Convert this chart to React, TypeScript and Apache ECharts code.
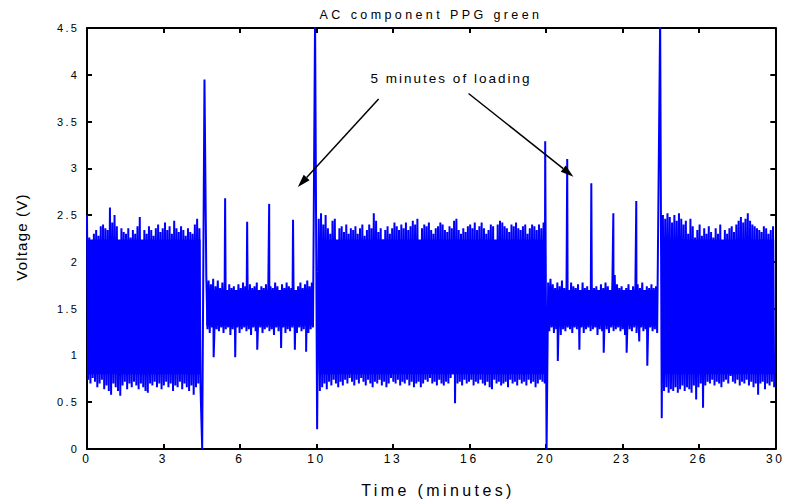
import React, { useEffect, useRef } from 'react';
import * as echarts from 'echarts';

// ---- axis labels ----
const xTickLabels = ['0', '3', '6', '10', '13', '16', '20', '23', '26', '30'];
const xMax = 30;
const yMax = 4.5;
const yInterval = 0.5;

// ---- signal: each segment holds alternating peak / trough samples, 0.05 min apart ----
const sampleStep = 0.05;

const segAStart = 0; // rest, before loading
const segA = [
  2.50, 0.74, 2.26, 0.70, 2.16, 0.76, 2.30, 0.72, 2.34, 0.66,
  2.28, 0.70, 2.38, 0.74, 2.40, 0.64, 2.36, 0.68, 2.34, 0.62,
  2.58, 0.58, 2.42, 0.70, 2.50, 0.66, 2.38, 0.62, 2.20, 0.57,
  2.36, 0.68, 2.32, 0.72, 2.30, 0.64, 2.36, 0.70, 2.26, 0.66,
  2.34, 0.72, 2.30, 0.68, 2.38, 0.64, 2.48, 0.70, 2.20, 0.66,
  2.34, 0.62, 2.30, 0.60, 2.38, 0.70, 2.34, 0.68, 2.28, 0.72,
  2.36, 0.66, 2.40, 0.70, 2.32, 0.64, 2.36, 0.68, 2.42, 0.72,
  2.34, 0.66, 2.38, 0.70, 2.30, 0.62, 2.44, 0.68, 2.36, 0.66,
  2.32, 0.72, 2.38, 0.64, 2.34, 0.70, 2.28, 0.66, 2.36, 0.62,
  2.32, 0.68, 2.30, 0.58, 2.40, 0.66, 2.46, 0.70, 2.36, 0.64,
];

const segBStart = 5.2; // first loading period
const segB = [
  1.84, 1.28, 1.80, 1.24, 1.76, 1.30, 1.82, 1.22, 1.74, 1.28,
  1.80, 1.26, 1.72, 1.30, 1.78, 1.24, 1.74, 1.28, 1.70, 1.30,
  1.76, 1.22, 1.72, 1.28, 1.74, 1.26, 1.70, 1.30, 1.76, 1.24,
  1.72, 1.28, 1.78, 1.30, 1.74, 1.26, 1.70, 1.28, 1.76, 1.22,
  1.72, 1.30, 1.74, 1.26, 1.78, 1.28, 1.70, 1.30, 1.74, 1.24,
  1.72, 1.28, 1.76, 1.30, 1.70, 1.26, 1.74, 1.28, 1.72, 1.22,
  1.78, 1.30, 1.74, 1.26, 1.70, 1.28, 1.76, 1.30, 1.72, 1.24,
  1.78, 1.28, 1.74, 1.26, 1.72, 1.30, 1.76, 1.28, 1.70, 1.24,
  1.74, 1.30, 1.78, 1.26, 1.72, 1.28, 1.76, 1.30, 1.80, 1.24,
  1.74, 1.28, 1.78, 1.30,
];

const segCStart = 10.1; // rest between loadings
const segC = [
  2.46, 0.62, 2.52, 0.66, 2.40, 0.70, 2.50, 0.64, 2.36, 0.72,
  2.30, 0.68, 2.44, 0.74, 2.46, 0.70, 2.20, 0.66, 2.36, 0.72,
  2.38, 0.68, 2.32, 0.74, 2.40, 0.70, 2.30, 0.76, 2.36, 0.72,
  2.34, 0.68, 2.38, 0.74, 2.30, 0.70, 2.36, 0.76, 2.40, 0.72,
  2.28, 0.68, 2.34, 0.74, 2.40, 0.70, 2.36, 0.66, 2.52, 0.72,
  2.44, 0.70, 2.32, 0.74, 2.36, 0.68, 2.24, 0.72, 2.34, 0.66,
  2.38, 0.70, 2.30, 0.76, 2.36, 0.72, 2.42, 0.70, 2.38, 0.74,
  2.34, 0.68, 2.40, 0.72, 2.36, 0.70, 2.42, 0.74, 2.34, 0.68,
  2.38, 0.72, 2.44, 0.66, 2.40, 0.70, 2.46, 0.72, 2.10, 0.66,
  2.36, 0.70, 2.40, 0.74, 2.38, 0.72, 2.42, 0.76, 2.34, 0.70,
  2.30, 0.72, 2.36, 0.68, 2.38, 0.74, 2.42, 0.70, 2.40, 0.68,
  2.34, 0.72, 2.32, 0.70, 2.38, 0.76, 2.36, 0.80, 2.44, 0.74,
  2.46, 0.70, 2.34, 0.72, 2.30, 0.68, 2.36, 0.74, 2.32, 0.70,
  2.38, 0.72, 2.40, 0.74, 2.36, 0.68, 2.42, 0.72, 2.34, 0.70,
  2.38, 0.74, 2.42, 0.70, 2.36, 0.68, 2.30, 0.72, 2.34, 0.66,
  2.40, 0.64, 2.38, 0.74, 2.02, 0.70, 2.40, 0.72, 2.44, 0.68,
  2.42, 0.70, 2.38, 0.72, 2.36, 0.66, 2.32, 0.74, 2.40, 0.70,
  2.38, 0.72, 2.42, 0.68, 2.36, 0.74, 2.34, 0.70, 2.38, 0.72,
  2.40, 0.68, 2.30, 0.74, 2.36, 0.70, 2.40, 0.72, 2.38, 0.66,
  2.34, 0.70, 2.40, 0.74, 2.36, 0.72, 2.42, 0.70,
];

const segDStart = 20.1; // second loading period
const segD = [
  1.78, 1.26, 1.82, 1.30, 1.76, 1.24, 1.72, 1.28, 1.78, 1.30,
  1.74, 1.22, 1.80, 1.28, 1.72, 1.26, 1.76, 1.30, 1.70, 1.28,
  1.78, 1.24, 1.74, 1.30, 1.72, 1.28, 1.76, 1.26, 1.70, 1.30,
  1.78, 1.24, 1.72, 1.28, 1.74, 1.30, 1.70, 1.26, 1.76, 1.28,
  1.72, 1.30, 1.74, 1.22, 1.70, 1.28, 1.76, 1.26, 1.72, 1.30,
  1.78, 1.28, 1.74, 1.24, 1.70, 1.30, 1.80, 1.26, 1.86, 1.28,
  1.76, 1.30, 1.72, 1.26, 1.74, 1.28, 1.70, 1.22, 1.72, 1.30,
  1.76, 1.28, 1.70, 1.26, 1.74, 1.30, 1.72, 1.24, 1.76, 1.28,
  1.72, 1.30, 1.78, 1.26, 1.70, 1.28, 1.74, 1.22, 1.72, 1.30,
  1.76, 1.26, 1.72, 1.28, 1.74, 1.24,
];

const segEStart = 25.1; // recovery
const segE = [
  2.50, 0.62, 2.46, 0.66, 2.52, 0.60, 2.48, 0.64, 2.42, 0.62,
  2.50, 0.66, 2.44, 0.60, 2.52, 0.64, 2.46, 0.68, 2.40, 0.62,
  2.44, 0.66, 2.30, 0.64, 2.46, 0.60, 2.38, 0.68, 2.26, 0.53,
  2.34, 0.66, 2.40, 0.70, 2.28, 0.44, 2.36, 0.68, 2.30, 0.72,
  2.38, 0.70, 2.32, 0.74, 2.26, 0.68, 2.36, 0.72, 2.30, 0.70,
  2.40, 0.66, 2.14, 0.72, 2.34, 0.74, 2.30, 0.70, 2.36, 0.78,
  2.38, 0.72, 2.32, 0.70, 2.40, 0.74, 2.44, 0.68, 2.48, 0.72,
  2.42, 0.70, 2.46, 0.74, 2.52, 0.68, 2.44, 0.72, 2.40, 0.66,
  2.38, 0.70, 2.36, 0.58, 2.34, 0.70, 2.32, 0.72, 2.38, 0.64,
  2.36, 0.70, 2.30, 0.68, 2.34, 0.72, 2.38, 0.66,
];

// dense core of each segment (where the trace fills solid)
const coreStart = [0, 5.2, 10.1, 20.1, 25.1];
const coreEnd = [4.95, 9.85, 19.95, 24.85, 29.95];
const coreLow = [0.8, 1.32, 0.8, 1.32, 0.8];
const coreHigh = [2.24, 1.7, 2.24, 1.7, 2.24];

// isolated spikes / artefacts (minutes, volts)
const spikeTimes = [
  5.02, 5.12, 5.52, 6.02, 6.46, 6.98, 7.42, 7.94, 8.46, 8.98, 9.06, 9.55,
  9.94, 10.03, 16.04, 19.97, 20.03, 20.52, 20.93, 21.46, 21.98, 22.52,
  22.94, 23.52, 23.94, 24.07, 24.42, 24.98, 25.05,
];
const spikeValues = [
  0.0, 3.95, 0.98, 2.68, 0.98, 2.43, 1.06, 2.62, 1.08, 2.45, 1.06, 1.04,
  4.6, 0.21, 0.49, 3.29, 0.0, 0.94, 3.10, 1.06, 2.84, 1.03,
  2.52, 1.03, 2.65, 1.15, 0.89, 4.6, 0.33,
];

// annotation arrows, in data coordinates (minutes, volts)
const arrowStart = [[12.71, 3.74], [16.63, 3.80]];
const arrowEnd = [[9.19, 2.80], [21.2, 2.91]];

const FONT = "'Liberation Sans', Arial, Helvetica, sans-serif";
const BLUE = '#0000ff';

function segPoints(start: number, vals: number[]) {
  return vals.map((v, i) => [Math.round((start + i * sampleStep) * 1000) / 1000, v]);
}

const points = [
  ...segPoints(segAStart, segA),
  ...segPoints(segBStart, segB),
  ...segPoints(segCStart, segC),
  ...segPoints(segDStart, segD),
  ...segPoints(segEStart, segE),
  ...spikeTimes.map((t, i) => [t, spikeValues[i]]),
].sort((a, b) => a[0] - b[0]);

const xTickValues = xTickLabels.map((_, i) => (i * xMax) / (xTickLabels.length - 1));

const axisLineStyle = { color: '#000', width: 2 };

const css = `
.ppg-chart text[style*="11px"] { letter-spacing: 2.2px; }
.ppg-chart text[style*="12px"] { letter-spacing: 2.6px; }
.ppg-chart text[style*="12.5px"] { letter-spacing: 3.4px; }
.ppg-chart text[style*="16px"] { letter-spacing: 3.4px; }
.ppg-chart text[style*="15px"] { letter-spacing: 1.2px; }
.ppg-chart text[style*="13.5px"] { letter-spacing: 2px; }
`;

function xAxisCfg(position: 'top' | 'bottom', labels: boolean) {
  return {
    type: 'value',
    min: 0,
    max: xMax,
    position,
    axisLine: { show: true, onZero: false, lineStyle: axisLineStyle },
    axisTick: { show: true, inside: true, length: 5, customValues: xTickValues, lineStyle: axisLineStyle },
    axisLabel: {
      show: labels,
      customValues: xTickValues,
      formatter: (v: number) => xTickLabels[Math.round((v * (xTickLabels.length - 1)) / xMax)],
      color: '#000',
      fontSize: 12,
      fontFamily: FONT,
      margin: 4,
    },
    splitLine: { show: false },
  };
}

function yAxisCfg(position: 'left' | 'right', labels: boolean) {
  return {
    type: 'value',
    min: 0,
    max: yMax,
    interval: yInterval,
    position,
    axisLine: { show: true, onZero: false, lineStyle: axisLineStyle },
    axisTick: { show: true, inside: true, length: 5, lineStyle: axisLineStyle },
    axisLabel: { show: labels, color: '#000', fontSize: 11, fontFamily: FONT, margin: 8 },
    splitLine: { show: false },
  };
}

export default function App() {
  const ref = useRef<HTMLDivElement>(null);
  useEffect(() => {
    document.body.style.margin = '0';
    const chart = echarts.init(ref.current!, null, { renderer: 'svg' });
    chart.setOption({
      animation: false,
      backgroundColor: '#fff',
      grid: { left: 87, right: 9, top: 28, bottom: 55 },
      xAxis: [xAxisCfg('bottom', true), xAxisCfg('top', false)],
      yAxis: [yAxisCfg('left', true), yAxisCfg('right', false)],
      series: [
        {
          type: 'line',
          xAxisIndex: 0,
          yAxisIndex: 0,
          data: points,
          symbol: 'none',
          showSymbol: false,
          clip: true,
          lineStyle: { color: BLUE, width: 2 },
          z: 1,
          markArea: {
            silent: true,
            itemStyle: { color: BLUE, opacity: 1 },
            data: coreStart.map((s, i) => [
              { xAxis: s, yAxis: coreLow[i] },
              { xAxis: coreEnd[i], yAxis: coreHigh[i] },
            ]),
          },
        },
      ],
    });

    const texts: any[] = [
      { id: 'title', type: 'text', x: 431, y: 14.5, style: { text: 'AC component PPG green', fontSize: 12.5, fontFamily: FONT, fill: '#000', textAlign: 'center', textVerticalAlign: 'middle' } },
      { id: 'xname', type: 'text', x: 438, y: 490, style: { text: 'Time (minutes)', fontSize: 16, fontFamily: FONT, fill: '#000', textAlign: 'center', textVerticalAlign: 'middle' } },
      { id: 'yname', type: 'text', x: 21, y: 237, rotation: Math.PI / 2, style: { text: 'Voltage (V)', fontSize: 15, fontFamily: FONT, fill: '#000', textAlign: 'center', textVerticalAlign: 'middle' } },
      { id: 'note', type: 'text', x: 451, y: 78, style: { text: '5 minutes of loading', fontSize: 13.5, fontFamily: FONT, fill: '#000', textAlign: 'center', textVerticalAlign: 'middle' } },
    ];
    const arrows: any[] = [];
    arrowStart.forEach((s, i) => {
      const p0 = chart.convertToPixel({ gridIndex: 0 }, s) as number[];
      const p1 = chart.convertToPixel({ gridIndex: 0 }, arrowEnd[i]) as number[];
      const dx = p1[0] - p0[0];
      const dy = p1[1] - p0[1];
      const L = Math.hypot(dx, dy);
      const ux = dx / L;
      const uy = dy / L;
      const hl = 13;
      const hw = 4;
      const bx = p1[0] - ux * hl;
      const by = p1[1] - uy * hl;
      arrows.push({ id: 'al' + i, type: 'line', shape: { x1: p0[0], y1: p0[1], x2: bx, y2: by }, style: { stroke: '#000', lineWidth: 1.5 }, z: 10 });
      arrows.push({
        id: 'ah' + i,
        type: 'polygon',
        shape: { points: [[p1[0], p1[1]], [bx - uy * hw, by + ux * hw], [bx + uy * hw, by - ux * hw]] },
        style: { fill: '#000' },
        z: 10,
      });
    });
    chart.setOption({ graphic: [...texts, ...arrows] });
    return () => chart.dispose();
  }, []);
  return (
    <>
      <style>{css}</style>
      <div ref={ref} className="ppg-chart" style={{ width: 785, height: 504 }} />
    </>
  );
}
